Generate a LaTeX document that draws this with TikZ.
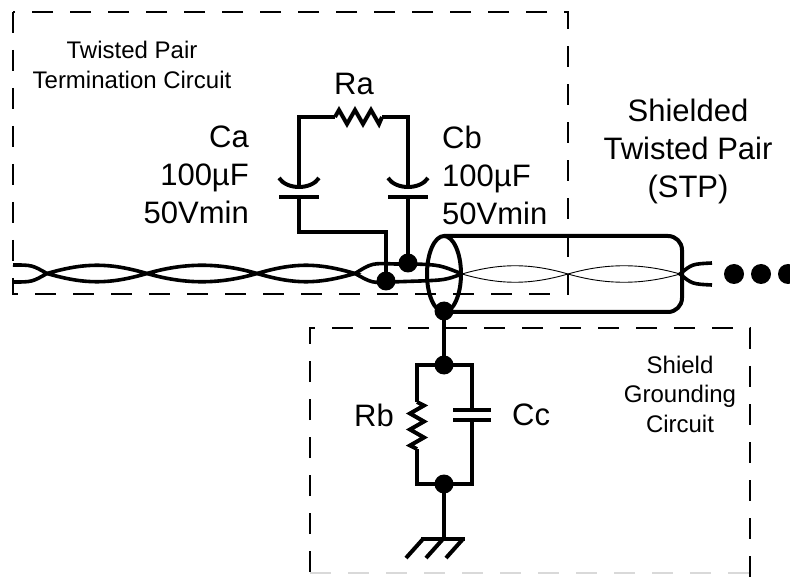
\documentclass[tikz,border=0pt]{standalone}
\usepackage{fontspec}
\setmainfont{Liberation Sans}

\tikzset{
  wire/.style={line width=4pt},
  cable/.style={line width=3.6pt},
  thinpair/.style={line width=0.9pt},
  frame/.style={line width=2.5pt, dash pattern=on 21pt off 17pt},
  big/.style={font=\fontsize{31}{38}\selectfont, inner sep=0pt},
  small/.style={font=\fontsize{24}{29.5}\selectfont, inner sep=0pt},
}

\begin{document}
\begin{tikzpicture}[x=1pt,y=-1pt]
    \useasboundingbox (0,0) rectangle (790,577);
    % dashed frames
    \draw[frame] (13,12) rectangle (568,294);
    \draw[frame] (310,572) -- (310,328) -- (750,328) -- (750,580);
    \draw[frame, gray!30, line width=1.2pt] (310,573) -- (750,573);
    % junction points
    \coordinate (caTop) at (299,117);
    \coordinate (raL) at (335,117);
    \coordinate (raR) at (382,117);
    \coordinate (cbTop) at (408,117);
    \coordinate (caPlate) at (299,187);
    \coordinate (caBase) at (299,197);
    \coordinate (cbPlate) at (408,187);
    \coordinate (cbBase) at (408,197);
    \coordinate (caBend) at (299,232);
    \coordinate (caDrop) at (386,232);
    \coordinate (jA) at (386,281);
    \coordinate (jB) at (408,263);
    \coordinate (jS) at (444,311);
    \coordinate (jTop) at (444,365);
    \coordinate (rbTop) at (417,365);
    \coordinate (ccTop) at (472,365);
    \coordinate (rbA) at (417,402);
    \coordinate (rbB) at (417,449);
    \coordinate (ccA) at (472,410);
    \coordinate (ccB) at (472,420);
    \coordinate (rbBot) at (417,484);
    \coordinate (ccBot) at (472,484);
    \coordinate (jBot) at (444,484);
    \coordinate (gnd) at (444,539);
    % twisted pair outside the shield
    \draw[cable] (13,265) .. controls (32,265) .. (47,273.5) .. controls (32,282) .. (13,282);
    \foreach \a/\b in {47/147,147/257,257/355}
      \draw[cable] (\a,273.5) .. controls (\a+38,262.5) and (\b-38,262.5) .. (\b,273.5)
                   .. controls (\b-38,284.5) and (\a+38,284.5) .. (\a,273.5);
    \draw[cable] (355,273.5) .. controls (372,263) .. (395,264) -- (415,264) .. controls (440,265) .. (462,274);
    \draw[cable] (355,273.5) .. controls (372,283) .. (390,282) -- (420,281) .. controls (445,280) .. (462,274);
    % pair inside the shield
    \foreach \a/\b in {462/568,568/680}
      \draw[thinpair] (\a,274) .. controls (\a+38,263) and (\b-38,263) .. (\b,274)
                      .. controls (\b-38,285) and (\a+38,285) .. (\a,274);
    \draw[cable] (712,263) .. controls (692,264) .. (680,274) .. controls (692,284) .. (712,285);
    \foreach \x in {734,761,788}
      \fill (\x,274) circle (10pt);
    % shield
    \draw[wire] (444,274) ellipse [x radius=17pt, y radius=38pt];
    \draw[wire, rounded corners=14pt] (444,236) -- (682,236) -- (682,312) -- (444,312);
    % termination circuit
    \draw[wire] (caPlate) -- (caTop) -- (raL);
    \draw[wire] (raL) -- ++(4,-7) -- ++(8,14) -- ++(8,-14) -- ++(8,14) -- ++(8,-14) -- ++(8,14) -- (raR);
    \draw[wire] (raR) -- (cbTop) -- (cbPlate);
    \foreach \x in {299,408} {
      \draw[wire] (\x-20,178) .. controls (\x-12,190) and (\x+12,190) .. (\x+20,178);
      \draw[wire] (\x-20,197) -- (\x+20,197);
    }
    \draw[wire] (caBase) -- (caBend) -- (caDrop) -- (jA);
    \draw[wire] (cbBase) -- (jB);
    % shield grounding circuit
    \draw[wire] (jS) -- (jTop);
    \draw[wire] (rbA) -- (rbTop) -- (ccTop) -- (ccA);
    \draw[wire] (rbA) -- ++(7,3.5) -- ++(-14,8) -- ++(14,8) -- ++(-14,8) -- ++(14,8) -- ++(-14,8) -- (rbB);
    \draw[wire] (rbB) -- (rbBot) -- (ccBot) -- (ccB);
    \draw[wire] (453,410) -- (491,410);
    \draw[wire] (453,420) -- (491,420);
    \draw[wire] (jBot) -- (gnd);
    \draw[wire] (421,539) -- (465,539);
    \foreach \x in {423,443,463}
      \draw[wire] (\x,539) -- ++(-17,19);
    \foreach \p in {jA,jB,jS,jTop,jBot}
      \fill (\p) circle (9.5pt);
    % labels
    \node[small, align=center] (tpcLabel) at (132,65) {Twisted Pair\\Termination Circuit};
    \node[big] (raLabel) at (354,84) {Ra};
    \node[big, align=right, anchor=east] (caLabel) at (249,175) {Ca\\100µF\\50Vmin};
    \node[big, align=left, anchor=west] (cbLabel) at (442,175) {Cb\\100µF\\50Vmin};
    \node[big, align=center] (stpLabel) at (688,151) {Shielded\\Twisted Pair\\(STP)};
    \node[big, anchor=east] (rbLabel) at (394,415) {Rb};
    \node[big, anchor=west] (ccLabel) at (512,415) {Cc};
    \node[small, align=center] (sgcLabel) at (680,394) {Shield\\Grounding\\Circuit};
\end{tikzpicture}
\end{document}
